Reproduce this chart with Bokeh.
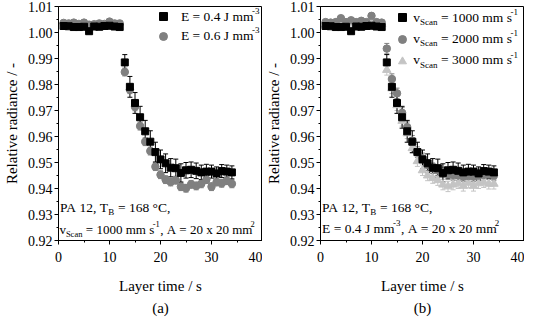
from bokeh.plotting import figure
from bokeh.layouts import row
from bokeh.models import (ColumnDataSource, FixedTicker, PrintfTickFormatter, Whisker,
                          TeeHead, Label, Legend, LegendItem, Title)
from bokeh.embed import file_html
from bokeh.resources import INLINE

# ---------------- data ----------------
layer_time = list(range(1, 35))

# E = 0.4 J/mm3, v = 1000 mm/s (shared by both panels)
rr_e04 = [1.0025, 1.0024, 1.0021, 1.0021, 1.0022, 1.0005, 1.0023, 1.0022, 1.0025, 1.0026, 1.0023, 1.0021,
          0.9885, 0.9791, 0.9729, 0.9674, 0.9620, 0.9580, 0.9540, 0.9512, 0.9497, 0.9480, 0.9478, 0.9460,
          0.9470, 0.9472, 0.9468, 0.9462, 0.9465, 0.9465, 0.9458, 0.9467, 0.9465, 0.9462]
err_e04 = [0.0008] * 12 + [0.0030, 0.0040, 0.0040, 0.0042, 0.0042, 0.0042, 0.0038, 0.0036, 0.0036, 0.0035,
                           0.0035, 0.0035, 0.0030, 0.0030, 0.0030, 0.0028, 0.0028, 0.0025, 0.0025, 0.0025,
                           0.0025, 0.0025]

# E = 0.6 J/mm3
rr_e06 = [1.0037, 1.0035, 1.0038, 1.0033, 1.0038, 1.0030, 1.0032, 1.0035, 1.0033, 1.0042, 1.0035, 1.0035,
          0.9848, 0.9780, 0.9714, 0.9640, 0.9580, 0.9544, 0.9484, 0.9453, 0.9434, 0.9425, 0.9432, 0.9407,
          0.9401, 0.9416, 0.9410, 0.9418, 0.9434, 0.9407, 0.9425, 0.9420, 0.9430, 0.9418]
err_e06 = [0.0010] * 12 + [0.0015] * 22

# v = 2000 mm/s
rr_v2000 = [1.0040, 1.0038, 1.0040, 1.0055, 1.0040, 1.0047, 1.0040, 1.0045, 1.0040, 1.0064, 1.0040, 1.0038,
            0.9938, 0.9821, 0.9766, 0.9691, 0.9636, 0.9584, 0.9540, 0.9516, 0.9490, 0.9478, 0.9470, 0.9462,
            0.9455, 0.9452, 0.9450, 0.9446, 0.9448, 0.9446, 0.9450, 0.9452, 0.9455, 0.9450]
err_v2000 = [0.0010] * 12 + [0.0020] * 22

# v = 3000 mm/s
rr_v3000 = [1.0030, 1.0032, 1.0035, 1.0030, 1.0033, 1.0035, 1.0030, 1.0035, 1.0032, 1.0040, 1.0035, 1.0033,
            0.9856, 0.9785, 0.9720, 0.9660, 0.9612, 0.9555, 0.9505, 0.9470, 0.9450, 0.9440, 0.9432, 0.9415,
            0.9408, 0.9415, 0.9420, 0.9410, 0.9422, 0.9410, 0.9420, 0.9424, 0.9418, 0.9418]
err_v3000 = [0.0010] * 12 + [0.0020] * 22

x_ticks = [0, 10, 20, 30, 40]
y_ticks = [0.92, 0.93, 0.94, 0.95, 0.96, 0.97, 0.98, 0.99, 1.00, 1.01]

FONT = "Liberation Serif"
BLACK = "#000000"
GRAY = "#808080"
LIGHT = "#c4c4c4"
NB = "\u00a0"

# Times metrics (per 1000 em)
W = {' ': 250, NB: 250, '0': 500, '1': 500, '2': 500, '3': 500, '4': 500, '5': 500, '6': 500, '7': 500,
     '8': 500, '9': 500, '.': 250, ',': 250, '=': 564, 'E': 611, 'J': 389, 'm': 778, 'v': 500, 'S': 556,
     'c': 444, 'a': 444, 'n': 500, 's': 389, '-': 333, 'A': 722, 'x': 500, 'P': 556, 'T': 611, 'B': 667,
     '°': 400, 'C': 667}


def tw(s, size):
    return 0.98 * sum(W.get(ch, 500) for ch in s) * size / 1000.0


def rich(p, x, y, pieces, size=14, small=9.5):
    off = 0.0
    for txt, kind in pieces:
        txt = txt.replace(" ", NB)
        fs = size if kind == "n" else small
        yo = 0 if kind == "n" else (-5 if kind == "sub" else 5)
        p.add_layout(Label(x=x, y=y, x_offset=off, y_offset=yo, text=txt, text_font=FONT,
                           text_font_size=f"{fs}px", text_baseline="middle", text_align="left",
                           text_color="black"))
        off += tw(txt, fs) + (0.5 if kind != "n" else 0)


def make_fig(caption):
    p = figure(frame_width=204, frame_height=234, x_range=(0, 40), y_range=(0.92, 1.01),
               output_backend="svg", toolbar_location=None,
               min_border_left=46, min_border_right=0, min_border_top=6, min_border_bottom=0)
    p.grid.visible = False
    p.outline_line_color = "black"
    p.outline_line_alpha = 1
    p.outline_line_width = 1
    p.xaxis.ticker = FixedTicker(ticks=x_ticks, minor_ticks=[5, 15, 25, 35])
    p.yaxis.ticker = FixedTicker(ticks=y_ticks,
                                 minor_ticks=[0.925, 0.935, 0.945, 0.955, 0.965, 0.975, 0.985, 0.995, 1.005])
    p.yaxis.formatter = PrintfTickFormatter(format="%.2f")
    for ax in (p.xaxis, p.yaxis):
        ax.major_tick_out = 4
        ax.major_tick_in = 0
        ax.minor_tick_out = 2
        ax.minor_tick_in = 0
        ax.axis_line_color = "black"
        ax.major_tick_line_color = "black"
        ax.minor_tick_line_color = "black"
        ax.major_label_text_font = FONT
        ax.major_label_text_font_size = "14px"
        ax.major_label_text_color = "black"
        ax.axis_label_text_font = FONT
        ax.axis_label_text_font_size = "15px"
        ax.axis_label_text_font_style = "normal"
        ax.axis_label_text_color = "black"
        ax.major_label_standoff = 2
    p.xaxis.major_label_standoff = 7
    p.xaxis.axis_label = "Layer time / s"
    p.yaxis.axis_label = "Relative radiance / -"
    p.xaxis.axis_label_standoff = 13
    p.yaxis.axis_label_standoff = 5
    p.add_layout(Title(text=caption, align="center", text_font=FONT, text_font_size="15px",
                       text_font_style="normal", text_color="black", standoff=3), "below")
    return p


def series(p, y, err, color, marker, size):
    src = ColumnDataSource(dict(x=layer_time, y=y,
                                lo=[a - b for a, b in zip(y, err)],
                                hi=[a + b for a, b in zip(y, err)]))
    p.add_layout(Whisker(base="x", upper="hi", lower="lo", source=src, line_color=color, line_width=1,
                         upper_head=TeeHead(size=5, line_color=color, line_width=1),
                         lower_head=TeeHead(size=5, line_color=color, line_width=1)))
    r = p.scatter("x", "y", source=src, marker=marker, size=size, fill_color=color, line_color=color)
    return r


def legend(p, renderers, loc, gh):
    lg = Legend(items=[LegendItem(label=" ", renderers=[r]) for r in renderers], location=loc,
                glyph_width=20, glyph_height=gh, spacing=0, padding=0, margin=0, label_standoff=0,
                label_width=1, label_height=gh, label_text_font_size="1px",
                background_fill_alpha=0, border_line_alpha=0)
    p.add_layout(lg, "center")


# ---------------- panel (a) ----------------
pa = make_fig("(a)")
r06 = series(pa, rr_e06, err_e06, GRAY, "circle", 7.5)
r04 = series(pa, rr_e04, err_e04, BLACK, "square", 7)
legend(pa, [r04, r06], (95, 194), 20)
rich(pa, 24.0, 1.0063, [("E = 0.4 J mm", "n"), ("-3", "sup")], size=13.5, small=9)
rich(pa, 24.0, 0.9989, [("E = 0.6 J mm", "n"), ("-3", "sup")], size=13.5, small=9)
rich(pa, 0.3, 0.9327, [("PA 12, T", "n"), ("B", "sub"), (" = 168 °C,", "n")], size=13.5, small=9)
rich(pa, 0.2, 0.9243, [("v", "n"), ("Scan", "sub"), (" = 1000 mm s", "n"), ("-1", "sup"),
                       (", A = 20 x 20 mm", "n"), ("2", "sup")], size=13, small=8.5)

# ---------------- panel (b) ----------------
pb = make_fig("(b)")
r3 = series(pb, rr_v3000, err_v3000, LIGHT, "triangle", 8.5)
r2 = series(pb, rr_v2000, err_v2000, GRAY, "circle", 7.5)
r1 = series(pb, rr_e04, err_e04, BLACK, "square", 7)
legend(pb, [r1, r2, r3], (72, 168), 22)
rich(pb, 18.2, 1.0059, [("v", "n"), ("Scan", "sub"), (" = 1000 mm s", "n"), ("-1", "sup")], size=13.5, small=9)
rich(pb, 18.2, 0.9978, [("v", "n"), ("Scan", "sub"), (" = 2000 mm s", "n"), ("-1", "sup")], size=13.5, small=9)
rich(pb, 18.2, 0.9896, [("v", "n"), ("Scan", "sub"), (" = 3000 mm s", "n"), ("-1", "sup")], size=13.5, small=9)
rich(pb, 0.3, 0.9327, [("PA 12, T", "n"), ("B", "sub"), (" = 168 °C,", "n")], size=13.5, small=9)
rich(pb, 0.3, 0.9247, [("E = 0.4 J mm", "n"), ("-3", "sup"), (", A = 20 x 20 mm", "n"), ("2", "sup")],
     size=13.5, small=9)

layout = row(pa, pb)
open("out.html", "w").write(file_html(layout, INLINE))
